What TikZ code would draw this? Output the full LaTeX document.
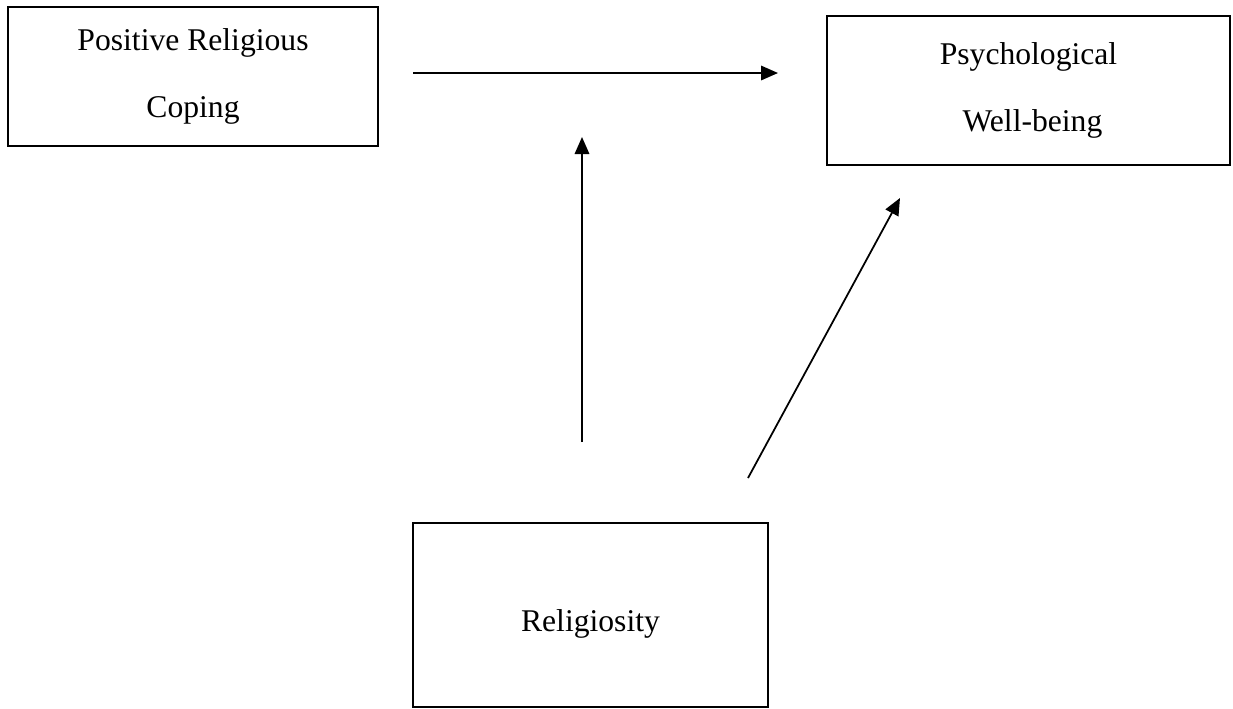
\documentclass[tikz,border=0pt]{standalone}
\usepackage{fontspec}
\setmainfont{Liberation Serif}
\usepackage{tikz}
\usetikzlibrary{arrows.meta, positioning}
\tikzset{
	varbox/.style={draw=black, line width=1.1pt, align=center, inner sep=0pt,
		font=\fontsize{18}{38}\selectfont},
	arr/.style={-{Triangle[length=3.4mm, width=2.9mm]}, line width=1pt, black},
}

\begin{document}
\begin{tikzpicture}[x=0.02cm, y=-0.02cm]
		\useasboundingbox (0,0) rectangle (1233,708);

		\node[varbox, minimum width=7.4cm, minimum height=2.78cm] (prc) at (193,76.5)
		{Positive Religious\\Coping};

		\node[varbox, minimum width=8.06cm, minimum height=2.98cm] (pwb) at (1028.5,90.5)
		{Psychological\\\ Well-being};

		\node[varbox, minimum width=7.1cm, minimum height=3.68cm] (rel) at (590.5,615)
		{\raisebox{-0.32cm}[0pt][0pt]{Religiosity}};

		\coordinate (mainstart) at (413,73);
		\coordinate (mainend) at (778,73);
		\coordinate (modstart) at (582,442);
		\coordinate (modend) at (582,137);
		\coordinate (dirstart) at (748,478);
		\coordinate (dirend) at (900,198);

		\draw[arr] (mainstart) -- (mainend);
		\draw[arr] (modstart) -- (modend);
		\draw[arr] (dirstart) -- (dirend);
	\end{tikzpicture}
\end{document}
